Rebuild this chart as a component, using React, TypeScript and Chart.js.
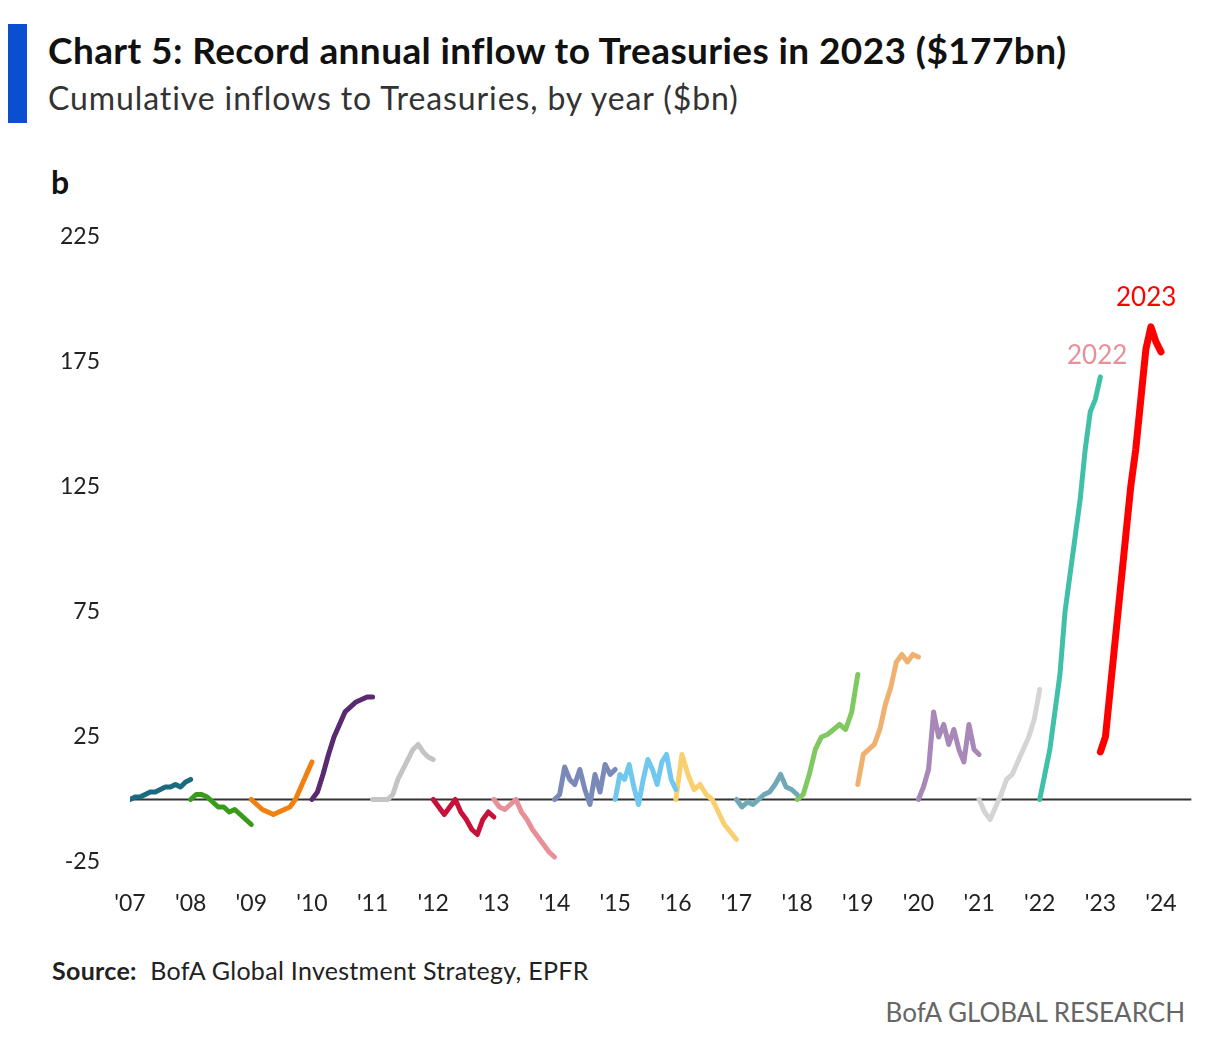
import React, { useEffect, useRef } from "react";
import { Chart, registerables } from "chart.js";
Chart.register(...registerables);

const yearLabels = ["'07","'08","'09","'10","'11","'12","'13","'14","'15","'16","'17","'18","'19","'20","'21","'22","'23","'24"];
const yTicks = [-25, 25, 75, 125, 175, 225];

const s2007 = [0, 1, 1, 2, 3, 3, 4, 5, 5, 6, 5, 7, 8];
const s2008 = [0, 2, 2, 1, -1, -3, -3, -5, -4, -6, -8, -10];
const s2009 = [0, -2, -4, -5, -6, -5, -4, -3, 0, 5, 10, 15];
const s2010 = [0, 3, 10, 18, 25, 30, 35, 37, 39, 40, 41, 41];
const s2011 = [0, 0, 0, 0, 2, 8, 12, 16, 20, 22, 19, 17, 16];
const s2012 = [0, -3, -6, -3, 0, -5, -8, -12, -14, -8, -5, -7];
const s2013 = [0, -3, -4, -2, 0, -5, -8, -12, -15, -18, -21, -23];
const s2014 = [0, 2, 13, 8, 6, 12, 4, -2, 10, 3, 14, 10, 12];
const s2015 = [0, 10, 8, 14, 5, -2, 8, 16, 12, 6, 15, 18, 8, 4];
const s2016 = [0, 18, 10, 4, 6, 2, 0, -5, -10, -13, -16];
const s2017 = [0, -3, -1, -2, 0, 2, 3, 6, 10, 5, 4, 2];
const s2018 = [0, 2, 10, 20, 25, 26, 28, 30, 28, 35, 50];
const s2019 = [6, 18, 20, 22, 28, 38, 45, 55, 58, 55, 58, 57];
const s2020 = [0, 5, 12, 35, 25, 30, 22, 28, 20, 15, 30, 20, 18];
const s2021 = [0, -5, -8, -3, 2, 8, 10, 15, 20, 25, 32, 44];
const s2022 = [0, 10, 20, 35, 50, 75, 90, 105, 120, 140, 155, 160, 169];
const s2023 = [19, 25, 45, 65, 85, 105, 125, 140, 160, 180, 189, 183, 179];

const seriesList = [
  { year: 2007, data: s2007, color: "#1a6b80" },
  { year: 2008, data: s2008, color: "#3a9a1a" },
  { year: 2009, data: s2009, color: "#f08010" },
  { year: 2010, data: s2010, color: "#5a2a70" },
  { year: 2011, data: s2011, color: "#c4c4c4" },
  { year: 2012, data: s2012, color: "#c8103a" },
  { year: 2013, data: s2013, color: "#e8909a" },
  { year: 2014, data: s2014, color: "#7a8ab8" },
  { year: 2015, data: s2015, color: "#70c8f0" },
  { year: 2016, data: s2016, color: "#f8d070" },
  { year: 2017, data: s2017, color: "#70a8b8" },
  { year: 2018, data: s2018, color: "#80c860" },
  { year: 2019, data: s2019, color: "#f0b070" },
  { year: 2020, data: s2020, color: "#a888b8" },
  { year: 2021, data: s2021, color: "#d4d4d4" },
  { year: 2022, data: s2022, color: "#40c0a8" },
  { year: 2023, data: s2023, color: "#ff0000" },
];

const FONT = "Lato, 'Open Sans', sans-serif";

export default function App() {
  const ref = useRef<HTMLCanvasElement>(null);
  useEffect(() => {
    const datasets = seriesList.map((s) => ({
      data: s.data.map((v, i) => ({ x: s.year + i / (s.data.length - 1), y: v })),
      borderColor: s.color,
      borderWidth: s.year === 2023 ? 7 : 5,
      pointRadius: 0,
      tension: 0,
      borderCapStyle: "round" as const,
      borderJoinStyle: "round" as const,
    }));
    const zeroLine = {
      id: "zeroLine",
      beforeDatasetsDraw(chart: any) {
        const { ctx, chartArea, scales } = chart;
        const y = scales.y.getPixelForValue(0);
        ctx.save();
        ctx.strokeStyle = "#333";
        ctx.lineWidth = 2;
        ctx.beginPath();
        ctx.moveTo(chartArea.left, y);
        ctx.lineTo(chartArea.right, y);
        ctx.stroke();
        ctx.restore();
      },
    };
    const chart = new Chart(ref.current!, {
      type: "line",
      data: { datasets },
      plugins: [zeroLine],
      options: {
        animation: false,
        responsive: false,
        layout: { padding: { top: 28, right: 10, left: 0, bottom: 0 } },
        plugins: { legend: { display: false }, tooltip: { enabled: false } },
        scales: {
          x: {
            type: "linear",
            min: 2007,
            max: 2024.5,
            grid: { display: false, drawTicks: false },
            border: { display: false },
            afterBuildTicks: (sc: any) => {
              sc.ticks = yearLabels.map((_, i) => ({ value: 2007 + i }));
            },
            afterFit: (sc: any) => { sc.height = 78; },
            ticks: {
              autoSkip: false,
              maxRotation: 0,
              padding: 28,
              color: "#222",
              font: { family: FONT, size: 23 },
              callback: (v: any) => yearLabels[Math.round(Number(v)) - 2007],
            },
          },
          y: {
            min: -25,
            max: 225,
            grid: { display: false, drawTicks: false },
            border: { display: false },
            afterBuildTicks: (sc: any) => {
              sc.ticks = yTicks.map((v) => ({ value: v }));
            },
            afterFit: (sc: any) => { sc.width = 100; },
            ticks: {
              padding: 30,
              color: "#222",
              font: { family: FONT, size: 23 },
            },
          },
        },
      },
    });
    return () => chart.destroy();
  }, []);

  const abs = (l: number, t: number): React.CSSProperties => ({ position: "absolute", left: l, top: t, whiteSpace: "nowrap" });

  return (
    <div style={{ position: "absolute", left: 0, top: 0, width: 1205, height: 1038, background: "#fff", fontFamily: FONT }}>
      <div style={{ position: "absolute", left: 8, top: 24, width: 19, height: 99, background: "#0a4fd0" }} />
      <div style={{ ...abs(48, 27), fontSize: 37, fontWeight: 700, color: "#111", letterSpacing: 0.4 }}>
        Chart 5: Record annual inflow to Treasuries in 2023 ($177bn)
      </div>
      <div style={{ ...abs(48, 78), fontSize: 32, color: "#333", letterSpacing: 0.9 }}>
        Cumulative inflows to Treasuries, by year ($bn)
      </div>
      <div style={{ ...abs(51, 162), fontSize: 32, fontWeight: 700, color: "#111" }}>b</div>
      <canvas ref={ref} width={1175} height={747} style={{ position: "absolute", left: 30, top: 193, width: 1175, height: 747 }} />
      <div style={{ ...abs(1067, 338), fontSize: 26, color: "#e8909a" }}>2022</div>
      <div style={{ ...abs(1116, 280), fontSize: 26, color: "#ff0000" }}>2023</div>
      <div style={{ ...abs(52, 955), fontSize: 25, color: "#222", letterSpacing: 0.3 }}>
        <b>Source:</b>&nbsp; BofA Global Investment Strategy, EPFR
      </div>
      <div style={{ position: "absolute", right: 20, top: 996, fontSize: 26, color: "#666", whiteSpace: "nowrap" }}>
        BofA GLOBAL RESEARCH
      </div>
    </div>
  );
}
